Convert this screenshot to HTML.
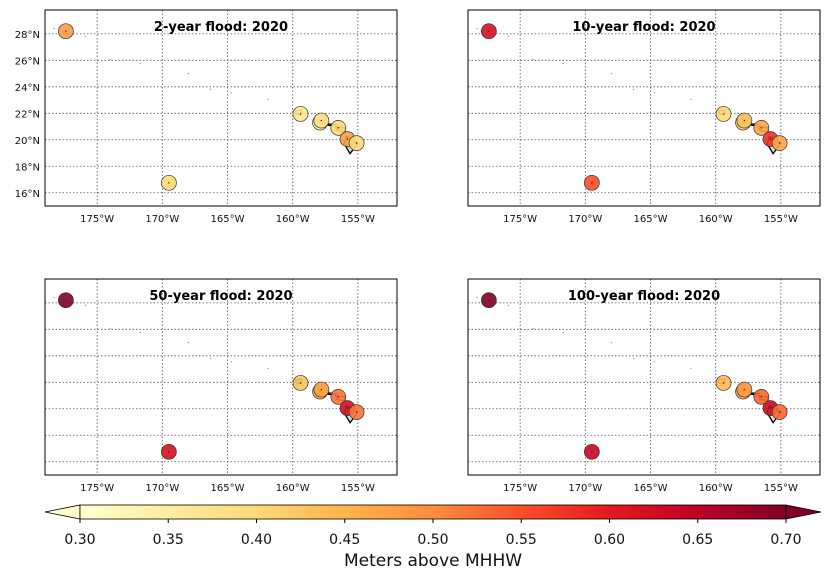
<!DOCTYPE html>
<html><head><meta charset="utf-8"><style>
body{margin:0;background:#fff;width:830px;height:580px;overflow:hidden}
svg{display:block;font-family:"DejaVu Sans","Liberation Sans",sans-serif}
</style></head><body>
<svg id="fig" width="830" height="580" viewBox="0 0 830 580" xmlns="http://www.w3.org/2000/svg">
<defs>
<linearGradient id="cmap" x1="0" x2="1" y1="0" y2="0">
<stop offset="0" stop-color="#ffffcc"/><stop offset="0.125" stop-color="#ffeda0"/><stop offset="0.25" stop-color="#fed976"/><stop offset="0.375" stop-color="#feb24c"/><stop offset="0.5" stop-color="#fd8d3c"/><stop offset="0.625" stop-color="#fc4e2a"/><stop offset="0.75" stop-color="#e31a1c"/><stop offset="0.875" stop-color="#bd0026"/><stop offset="1" stop-color="#800026"/>
</linearGradient>
</defs>
</svg>
<script>
const stationNames=["midway","johnston","nawiliwili","honolulu","mokuoloe","kahului","kawaihae","hilo"];
const stationLon=[-177.4,-169.5,-159.4,-157.9,-157.8,-156.5,-155.8,-155.1];
const stationLat=[28.2,16.75,21.95,21.3,21.45,20.9,20.05,19.75];
const titles=["2-year flood: 2020","10-year flood: 2020","50-year flood: 2020","100-year flood: 2020"];
const vals2=[0.48,0.40,0.37,0.37,0.38,0.40,0.48,0.40];
const vals10=[0.62,0.55,0.40,0.43,0.43,0.47,0.58,0.47];
const vals50=[0.70,0.62,0.43,0.47,0.47,0.52,0.62,0.52];
const vals100=[0.71,0.64,0.44,0.48,0.48,0.53,0.63,0.53];
const lonTicks=[-175,-170,-165,-160,-155];
const latTicks=[16,18,20,22,24,26,28];
const cbTicks=[0.30,0.35,0.40,0.45,0.50,0.55,0.60,0.65,0.70];
const allVals=[vals2,vals10,vals50,vals100];
const NS="http://www.w3.org/2000/svg";
const svg=document.getElementById('fig');
function mk(t,a,p){const e=document.createElementNS(NS,t);for(const k in a)e.setAttribute(k,a[k]);(p||svg).appendChild(e);return e;}
const stops=[[255,255,204],[255,237,160],[254,217,118],[254,178,76],[253,141,60],[252,78,42],[227,26,28],[189,0,38],[128,0,38]];
function cmap(v){let t=(v-0.3)/0.4;t=Math.max(0,Math.min(1,t))*8;const i=Math.min(7,Math.floor(t)),f=t-i;const a=stops[i],b=stops[i+1];return`rgb(${a.map((c,j)=>Math.round(c+(b[j]-c)*f)).join(',')})`;}
const panels=[[45,10],[468,10],[45,279],[468,279]];
const W=352,H=196,lon0=-179,lon1=-152,lat0=15,lat1=29.8;
// small islands (lon,lat)
const dots=[[-178.3,28.4],[-175.9,27.8],[-174,26.05],[-171.7,25.75],[-168,25.0],[-166.3,23.8],[-164.7,23.55],[-161.9,23.05]];
const islands=[
[[-159.8,22.2],[-159.3,22.23],[-159.3,21.9],[-159.7,21.92]],
[[-158.3,21.55],[-157.7,21.7],[-157.65,21.3],[-158.1,21.3]],
[[-157.3,21.2],[-156.7,21.15],[-156.9,21.05],[-157.3,21.1]],
[[-156.7,21.0],[-156.0,20.9],[-156.0,20.6],[-156.6,20.7]],
[[-155.9,20.25],[-155.0,19.75],[-155.6,18.95],[-156.05,19.7]]];
panels.forEach((p,pi)=>{
 const [X,Y]=p;
 const g=mk('g',{});
 const sx=l=>X+(l-lon0)/(lon1-lon0)*W, sy=l=>Y+(lat1-l)/(lat1-lat0)*H;
 lonTicks.forEach(t=>{const l=mk('line',{x1:sx(t),x2:sx(t),y1:Y,y2:Y+H,stroke:'#555','stroke-width':0.8,'stroke-dasharray':'1.5,2'},g);
  const tx=mk('text',{x:sx(t),y:Y+H+16,'font-size':10,'text-anchor':'middle',fill:'#111'},g);tx.textContent=(-t)+'°W';});
 latTicks.forEach(t=>{const l=mk('line',{x1:X,x2:X+W,y1:sy(t),y2:sy(t),stroke:'#555','stroke-width':0.8,'stroke-dasharray':'1.5,2'},g);
  if(pi===0){const tx=mk('text',{x:X-5,y:sy(t)+4,'font-size':10,'text-anchor':'end',fill:'#111'},g);tx.textContent=t+'°N';}});
 dots.forEach(d=>{mk('circle',{cx:sx(d[0]),cy:sy(d[1]),r:0.7,fill:'#999'},g);});
 islands.forEach(is=>{const pl=mk('polygon',{points:is.map(q=>sx(q[0])+','+sy(q[1])).join(' '),fill:'#ddd',stroke:'#000','stroke-width':1.3},g);});
 const vals=allVals[pi];
 stationLon.forEach((lo,i)=>{const c=mk('circle',{cx:sx(lo),cy:sy(stationLat[i]),r:7.5,fill:cmap(vals[i]),stroke:'#333','stroke-width':0.7,'fill-opacity':0.9},g);
  mk('circle',{cx:sx(lo),cy:sy(stationLat[i]),r:0.7,fill:'#222'},g);});
 const fr=mk('rect',{x:X,y:Y,width:W,height:H,fill:'none',stroke:'#000','stroke-width':1},g);
 const tt=mk('text',{x:X+176,y:Y+21,'font-size':13,'font-weight':'bold','text-anchor':'middle',fill:'#000'},g);tt.textContent=titles[pi];
});
// colorbar
const cb=mk('g',{});
const cx0=80,cx1=786,cy0=505,cy1=519;
const cs=v=>cx0+(v-0.3)/0.4*(cx1-cx0);
mk('polygon',{points:`${cx0},${cy0} ${cx0},${cy1} 45,${(cy0+cy1)/2}`,fill:'#ffffcc',stroke:'#000','stroke-width':0.8},cb);
mk('polygon',{points:`${cx1},${cy0} ${cx1},${cy1} 821,${(cy0+cy1)/2}`,fill:'#800026',stroke:'#000','stroke-width':0.8},cb);
mk('rect',{x:cx0,y:cy0,width:cx1-cx0,height:cy1-cy0,fill:'url(#cmap)',stroke:'#000','stroke-width':0.8},cb);
cbTicks.forEach(t=>{mk('line',{x1:cs(t),x2:cs(t),y1:cy1,y2:cy1+4,stroke:'#000'},cb);const tx=mk('text',{x:cs(t),y:cy1+25,'font-size':14,'text-anchor':'middle',fill:'#111'},cb);tx.textContent=t.toFixed(2);});
const lb=mk('text',{x:433,y:566,'font-size':17,'text-anchor':'middle',fill:'#111'},cb);lb.textContent='Meters above MHHW';
</script>
</body></html>
